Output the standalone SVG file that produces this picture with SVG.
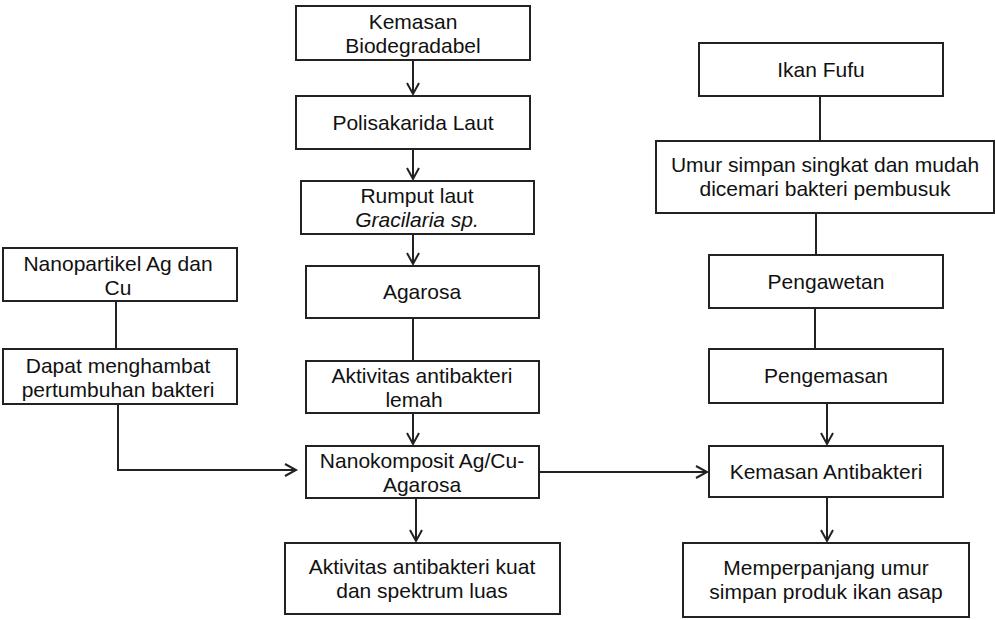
<svg xmlns="http://www.w3.org/2000/svg" width="995" height="620" viewBox="0 0 995 620">
<style>
rect{fill:#fff;stroke:#222;stroke-width:2}
text{font-family:"Liberation Sans",Arial,sans-serif;font-size:21px;fill:#111;text-anchor:middle}
.c{fill:none;stroke:#222;stroke-width:2}
.it{font-style:italic}
</style>
<defs>
<marker id="a" markerUnits="userSpaceOnUse" markerWidth="20" markerHeight="20" refX="0" refY="0" orient="auto" overflow="visible">
<path d="M-11,-6 L0,0 L-11,6" fill="none" stroke="#222" stroke-width="2"/>
</marker>
</defs>
<g id="connectors">
<path class="c" d="M413,60 V94" marker-end="url(#a)"/>
<path class="c" d="M413,149 V179" marker-end="url(#a)"/>
<path class="c" d="M413,234 V264" marker-end="url(#a)"/>
<path class="c" d="M413,318 V361"/>
<path class="c" d="M413,413 V444" marker-end="url(#a)"/>
<path class="c" d="M416,498 V541" marker-end="url(#a)"/>
<path class="c" d="M116,301 V349"/>
<path class="c" d="M118,404 V470 H296" marker-end="url(#a)"/>
<path class="c" d="M539,472 H707" marker-end="url(#a)"/>
<path class="c" d="M820,96 V141"/>
<path class="c" d="M816,213 V255"/>
<path class="c" d="M815,308 V349"/>
<path class="c" d="M827,403 V444" marker-end="url(#a)"/>
<path class="c" d="M827,497 V541" marker-end="url(#a)"/>
</g>
<g id="kemasan-biodegradabel">
<rect x="296" y="6" width="234" height="54"/>
<text x="413" y="29">Kemasan</text>
<text x="413" y="53">Biodegradabel</text>
</g>
<g id="polisakarida-laut">
<rect x="296" y="96" width="234" height="53"/>
<text x="413" y="130">Polisakarida Laut</text>
</g>
<g id="rumput-laut">
<rect x="301" y="181" width="233" height="53"/>
<text x="417" y="203">Rumput laut</text>
<text x="417" y="227" class="it">Gracilaria sp.</text>
</g>
<g id="agarosa">
<rect x="306" y="266" width="233" height="52"/>
<text x="422" y="299">Agarosa</text>
</g>
<g id="aktivitas-lemah">
<rect x="306" y="361" width="233" height="52"/>
<text x="422" y="383">Aktivitas antibakteri</text>
<text x="414" y="407">lemah</text>
</g>
<g id="nanokomposit">
<rect x="306" y="446" width="233" height="52"/>
<text x="422" y="468">Nanokomposit Ag/Cu-</text>
<text x="422" y="492">Agarosa</text>
</g>
<g id="aktivitas-kuat">
<rect x="285" y="543" width="275" height="71"/>
<text x="422" y="574">Aktivitas antibakteri kuat</text>
<text x="422" y="598">dan spektrum luas</text>
</g>
<g id="nanopartikel">
<rect x="3" y="248" width="234" height="53"/>
<text x="118" y="271">Nanopartikel Ag dan</text>
<text x="118" y="295">Cu</text>
</g>
<g id="dapat-menghambat">
<rect x="3" y="349" width="234" height="55"/>
<text x="118" y="373">Dapat menghambat</text>
<text x="118" y="397">pertumbuhan bakteri</text>
</g>
<g id="ikan-fufu">
<rect x="699" y="43" width="244" height="53"/>
<text x="821" y="77">Ikan Fufu</text>
</g>
<g id="umur-simpan">
<rect x="656" y="141" width="338" height="72"/>
<text x="825" y="172">Umur simpan singkat dan mudah</text>
<text x="825" y="196">dicemari bakteri pembusuk</text>
</g>
<g id="pengawetan">
<rect x="709" y="255" width="234" height="53"/>
<text x="826" y="289">Pengawetan</text>
</g>
<g id="pengemasan">
<rect x="709" y="349" width="234" height="54"/>
<text x="826" y="383">Pengemasan</text>
</g>
<g id="kemasan-antibakteri">
<rect x="709" y="446" width="234" height="51"/>
<text x="826" y="479">Kemasan Antibakteri</text>
</g>
<g id="memperpanjang">
<rect x="683" y="543" width="286" height="74"/>
<text x="826" y="575">Memperpanjang umur</text>
<text x="826" y="599">simpan produk ikan asap</text>
</g>
</svg>
